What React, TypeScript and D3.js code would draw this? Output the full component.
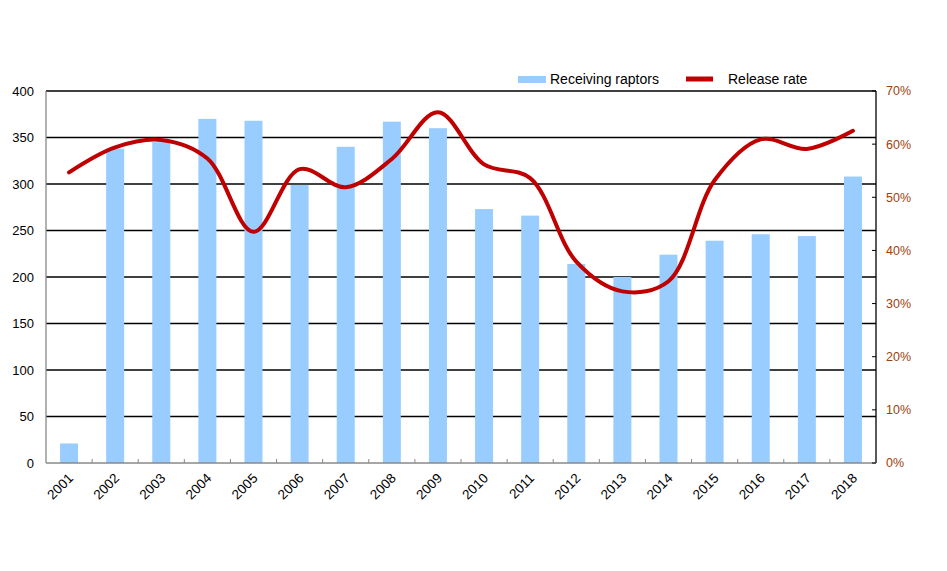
import * as React from "react";
import { useEffect, useRef } from "react";
import * as d3 from "d3";

const years = ["2001", "2002", "2003", "2004", "2005", "2006", "2007", "2008", "2009", "2010", "2011", "2012", "2013", "2014", "2015", "2016", "2017", "2018"];
const raptors = [21, 338, 345, 370, 368, 299, 340, 367, 360, 273, 266, 214, 200, 224, 239, 246, 244, 308];
const releaseRate = [54.7, 59.4, 60.8, 57.3, 43.5, 55.3, 51.9, 57.2, 66.0, 56.2, 53.6, 37.9, 32.3, 34.2, 53.2, 60.9, 59.1, 62.5];
const leftTicks = [0, 50, 100, 150, 200, 250, 300, 350, 400];
const rightTicks = [0, 10, 20, 30, 40, 50, 60, 70];

const W = 947;
const H = 571;
const margin = { top: 91, right: 71, bottom: 108, left: 46 };
const barColor = "#99ccff";
const lineColor = "#c00000";
const rightColor = "#a0400a";
const font = "Arial, 'Liberation Sans', sans-serif";

const App: React.FC = () => {
  const svgRef = useRef<SVGSVGElement | null>(null);

  useEffect(() => {
    document.body.style.margin = "0";
    const svg = d3.select(svgRef.current);
    svg.selectAll("*").remove();

    const x = d3.scaleBand().domain(years).range([margin.left, W - margin.right]).paddingInner(0.61).paddingOuter(0.305);
    const xc = d3.scaleBand().domain(years).range([margin.left, W - margin.right]);
    const y = d3.scaleLinear().domain([0, 400]).range([H - margin.bottom, margin.top]);
    const y2 = d3.scaleLinear().domain([0, 70]).range([H - margin.bottom, margin.top]);
    const x0 = margin.left;
    const x1 = W - margin.right;
    const bottom = H - margin.bottom;

    // gridlines
    svg.append("g")
      .selectAll("line")
      .data(leftTicks.filter((d) => d > 0))
      .join("line")
      .attr("x1", x0).attr("x2", x1)
      .attr("y1", (d) => y(d)).attr("y2", (d) => y(d))
      .attr("stroke", "#000").attr("stroke-width", 1.3);

    // bars
    svg.append("g")
      .selectAll("rect")
      .data(raptors)
      .join("rect")
      .attr("x", (_, i) => x(years[i])!)
      .attr("width", x.bandwidth())
      .attr("y", (d) => y(d))
      .attr("height", (d) => bottom - y(d))
      .attr("fill", barColor);

    // axes lines
    svg.append("line").attr("x1", x0).attr("x2", x0).attr("y1", margin.top).attr("y2", bottom).attr("stroke", "#888").attr("stroke-width", 1.3);
    svg.append("line").attr("x1", x1).attr("x2", x1).attr("y1", margin.top).attr("y2", bottom).attr("stroke", "#000").attr("stroke-width", 1.3);
    svg.append("line").attr("x1", x0).attr("x2", x1).attr("y1", bottom).attr("y2", bottom).attr("stroke", "#888").attr("stroke-width", 1.3);

    // x category ticks (inward)
    svg.append("g")
      .selectAll("line")
      .data(years.slice(1))
      .join("line")
      .attr("x1", (d) => xc(d)!).attr("x2", (d) => xc(d)!)
      .attr("y1", bottom).attr("y2", bottom - 4)
      .attr("stroke", "#888");

    // right ticks (inward)
    svg.append("g")
      .selectAll("line")
      .data(rightTicks)
      .join("line")
      .attr("x1", x1 - 4).attr("x2", x1)
      .attr("y1", (d) => y2(d)).attr("y2", (d) => y2(d))
      .attr("stroke", "#000");

    // left labels
    svg.append("g")
      .selectAll("text")
      .data(leftTicks)
      .join("text")
      .attr("x", 34)
      .attr("y", (d) => y(d))
      .attr("dy", "0.35em")
      .attr("text-anchor", "end")
      .attr("font-family", font)
      .attr("font-size", 13)
      .attr("fill", "#000")
      .text((d) => d);

    // right labels
    svg.append("g")
      .selectAll("text")
      .data(rightTicks)
      .join("text")
      .attr("x", 886)
      .attr("y", (d) => y2(d))
      .attr("dy", "0.35em")
      .attr("font-family", font)
      .attr("font-size", 12.5)
      .attr("fill", rightColor)
      .text((d) => `${d}%`);

    // x labels
    svg.append("g")
      .selectAll("text")
      .data(years)
      .join("text")
      .attr("transform", (d) => `translate(${xc(d)! + xc.bandwidth() / 2 + 5},${bottom + 16}) rotate(-45)`)
      .attr("text-anchor", "end")
      .attr("font-family", font)
      .attr("font-size", 13.5)
      .attr("fill", "#000")
      .text((d) => d);

    // release rate line
    const line = d3.line<number>()
      .x((_, i) => xc(years[i])! + xc.bandwidth() / 2)
      .y((d) => y2(d))
      .curve(d3.curveCatmullRom.alpha(0.5));

    svg.append("path")
      .datum(releaseRate)
      .attr("d", line)
      .attr("fill", "none")
      .attr("stroke", lineColor)
      .attr("stroke-width", 4)
      .attr("stroke-linecap", "round");

    // legend
    const lg = svg.append("g").attr("font-family", font).attr("font-size", 14);
    lg.append("rect").attr("x", 518).attr("y", 76).attr("width", 28).attr("height", 7).attr("fill", barColor);
    lg.append("text").attr("x", 550).attr("y", 79).attr("dy", "0.35em").text("Receiving raptors");
    lg.append("line").attr("x1", 686).attr("x2", 713).attr("y1", 79).attr("y2", 79).attr("stroke", lineColor).attr("stroke-width", 5);
    lg.append("text").attr("x", 728).attr("y", 79).attr("dy", "0.35em").text("Release rate");
  }, []);

  return <svg ref={svgRef} width={W} height={H} style={{ display: "block", background: "#fff" }}></svg>;
};

export default App;
